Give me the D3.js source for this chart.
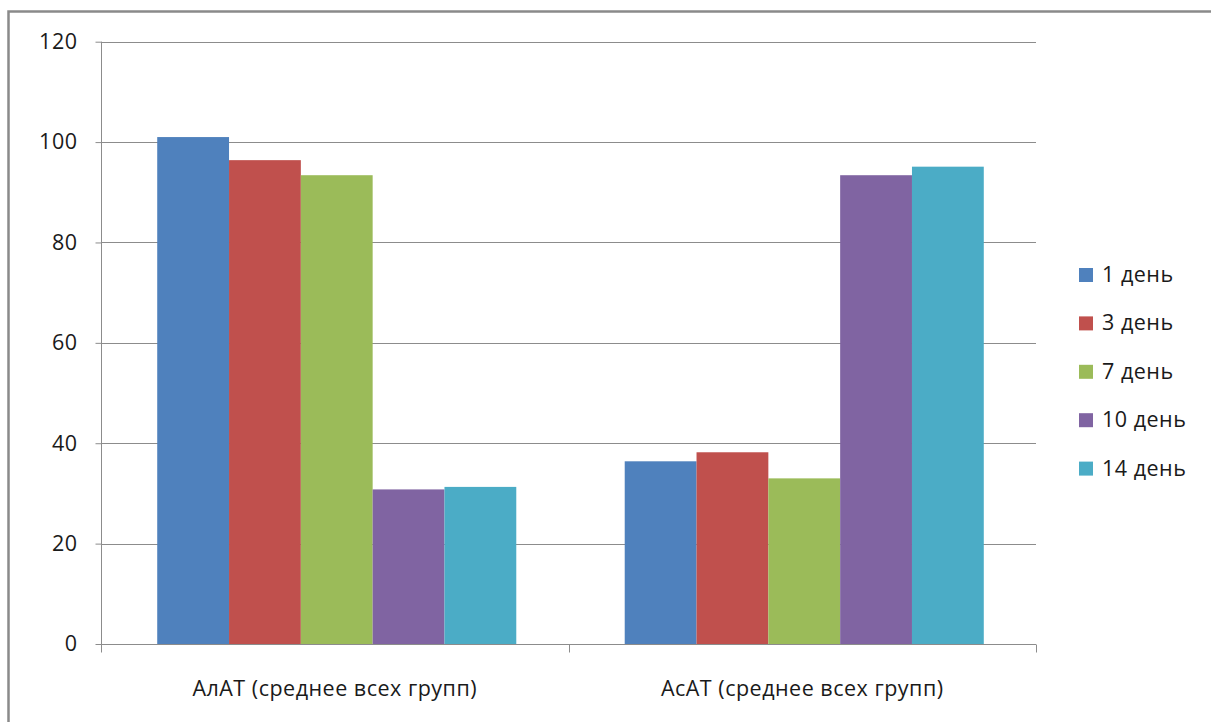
<!DOCTYPE html>
<html>
<head>
<meta charset="utf-8">
<script src="https://cdn.jsdelivr.net/npm/d3@7"></script>
<style>
  html, body { margin: 0; padding: 0; background: #fff; overflow: hidden; }
  svg { display: block; }
  text { font-family: "Open Sans", "DejaVu Sans", sans-serif; fill: #1a1a1a; letter-spacing: 0.5px; }
</style>
</head>
<body>
<svg id="chart" width="1211" height="722"></svg>
<script>
// Categories and series (average across all groups)
const categories = ["АлАТ (среднее всех групп)", "АсАТ (среднее всех групп)"];
const seriesNames = ["1 день", "3 день", "7 день", "10 день", "14 день"];
const alatValues = [101.0, 96.4, 93.4, 30.8, 31.3];
const asatValues = [36.4, 38.2, 33.0, 93.4, 95.1];
const yTicks = [0, 20, 40, 60, 80, 100, 120];
const seriesColors = ["#4F81BD", "#C0504D", "#9BBB59", "#8064A2", "#4BACC6"];

const valuesByCategory = [alatValues, asatValues];
const rows = categories.map((c, i) => ({
  category: c,
  bars: seriesNames.map((s, j) => ({ series: s, value: valuesByCategory[i][j], idx: j }))
}));

const FONT = 21.5;
const svg = d3.select("#chart");

// Outer chart frame (continues past the right and bottom edges)
svg.append("rect")
  .attr("x", 8.5).attr("y", 11.5)
  .attr("width", 1300).attr("height", 800)
  .attr("fill", "none").attr("stroke", "#8a8a8a").attr("stroke-width", 2.5);

const plot = { left: 101, right: 1036, top: 41.7, bottom: 644 };

const y = d3.scaleLinear().domain([0, 120]).range([plot.bottom, plot.top]);
const x0 = d3.scaleBand().domain(categories).range([plot.left, plot.right]).padding(0);
// bars in each cluster sit slightly right of the cluster centre
const x1 = d3.scaleBand().domain(seriesNames).range([2, x0.bandwidth() + 2])
  .paddingInner(0).paddingOuter(0.755);

const color = d3.scaleOrdinal().domain(seriesNames).range(seriesColors);

// Horizontal gridlines
svg.append("g")
  .selectAll("line")
  .data(yTicks.filter(t => t > 0))
  .join("line")
  .attr("x1", plot.left).attr("x2", plot.right)
  .attr("y1", d => Math.round(y(d)) + 0.5).attr("y2", d => Math.round(y(d)) + 0.5)
  .attr("stroke", "#8c8c8c").attr("stroke-width", 1);

// Bars
svg.append("g")
  .selectAll("g")
  .data(rows)
  .join("g")
  .attr("transform", d => `translate(${x0(d.category)},0)`)
  .selectAll("rect")
  .data(d => d.bars)
  .join("rect")
  .attr("x", d => x1(d.series))
  .attr("width", x1.bandwidth())
  .attr("y", d => y(d.value))
  .attr("height", d => y(0) - y(d.value))
  .attr("fill", d => color(d.series));

// Y axis
const yAxis = d3.axisLeft(y).tickValues(yTicks).tickSize(6).tickPadding(18).tickFormat(d3.format("d"));
const gy = svg.append("g")
  .attr("transform", `translate(${plot.left + 0.5},0)`)
  .call(yAxis);
gy.select(".domain").attr("stroke", "#8c8c8c").attr("d", `M0,${plot.top}V${plot.bottom}`);
gy.selectAll(".tick line").attr("stroke", "#8c8c8c");
gy.selectAll(".tick text")
  .attr("font-size", FONT)
  .attr("font-family", "'Open Sans', sans-serif")
  .attr("fill", "#1a1a1a");

// X axis: baseline, category separators, centred labels
const gx = svg.append("g").attr("transform", `translate(0,${plot.bottom + 0.5})`);
gx.append("line")
  .attr("x1", plot.left).attr("x2", plot.right)
  .attr("stroke", "#8c8c8c");
const separators = [plot.left].concat(categories.map(c => x0(c) + x0.bandwidth()));
gx.selectAll("line.sep")
  .data(separators)
  .join("line")
  .attr("class", "sep")
  .attr("x1", d => Math.round(d) + 0.5).attr("x2", d => Math.round(d) + 0.5)
  .attr("y1", 0).attr("y2", 8)
  .attr("stroke", "#8c8c8c");
gx.selectAll("text")
  .data(categories)
  .join("text")
  .attr("x", d => x0(d) + x0.bandwidth() / 2)
  .attr("y", 51)
  .attr("text-anchor", "middle")
  .attr("font-size", FONT)
  .text(d => d);

// Legend
const legend = svg.append("g").attr("transform", "translate(1079,268)");
const item = legend.selectAll("g")
  .data(seriesNames)
  .join("g")
  .attr("transform", (d, i) => `translate(0,${i * 48.4})`);
item.append("rect")
  .attr("width", 14).attr("height", 14)
  .attr("fill", d => color(d));
item.append("text")
  .attr("x", 23).attr("y", 14)
  .attr("font-size", FONT)
  .text(d => d);
</script>
</body>
</html>
